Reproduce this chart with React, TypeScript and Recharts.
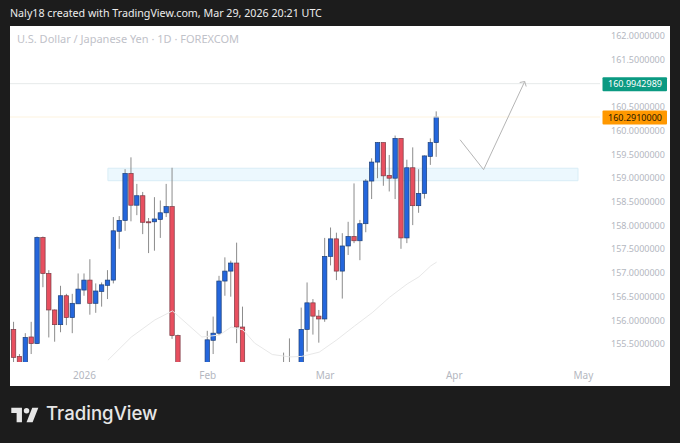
import React from "react";
import { ComposedChart, Bar, Line, XAxis, YAxis, ReferenceArea, ReferenceLine } from "recharts";

// Candle index starts at -1 (partly hidden candle at the left edge). null = candle not visible in the picture.
const firstIdx = -1;
const opens = [155.59,155.81,155.24,155.0,155.65,155.51,157.75,156.99,156.22,155.91,156.52,156.06,156.35,156.64,156.85,156.36,156.61,156.74,156.85,157.88,158.11,159.10,158.43,158.63,158.08,158.08,158.13,158.27,158.40,155.68,null,null,null,null,155.0,155.58,155.73,156.83,157.04,157.21,155.86,null,null,null,null,null,null,null,null,null,155.0,155.81,156.37,156.09,156.03,157.35,157.72,157.04,157.57,157.77,157.68,158.04,158.94,159.34,159.75,159.06,159.00,159.84,157.74,159.22,158.42,158.68,159.46,159.75];
const highs = [155.85,155.97,155.29,155.73,155.97,157.77,157.77,157.06,156.23,156.73,156.56,156.56,156.99,156.99,157.29,156.78,156.80,157.06,158.18,158.20,159.19,159.44,158.88,158.71,158.16,158.60,158.53,158.88,159.22,155.70,null,null,null,null,155.78,156.08,156.94,157.33,157.26,157.64,156.29,null,null,null,null,null,null,155.32,155.62,null,156.27,156.80,156.45,156.22,157.74,157.96,157.85,157.84,158.08,158.89,158.12,158.98,159.42,159.76,159.75,159.49,159.90,159.84,159.39,159.65,159.19,159.48,159.84,160.41];
const lows = [155.3,155.12,155.0,154.95,155.29,155.50,156.70,155.64,155.55,155.75,155.90,155.73,156.35,156.52,156.12,156.16,156.29,156.45,156.78,157.51,157.89,158.09,158.22,157.82,157.42,157.47,157.74,158.18,155.61,155.0,null,null,null,null,154.95,155.29,155.69,156.52,156.50,155.52,155.0,null,null,null,null,null,null,155.0,155.0,null,154.95,155.34,155.70,155.53,155.97,157.16,156.85,156.46,157.38,157.63,157.27,157.86,158.56,159.00,158.84,158.72,158.56,157.51,157.63,158.01,158.27,158.57,159.28,159.45];
const closes = [155.81,155.22,155.05,155.64,155.51,157.75,156.99,156.22,155.91,156.52,156.06,156.36,156.66,156.85,156.36,156.62,156.75,156.85,157.89,158.11,159.10,158.43,158.63,158.07,158.06,158.14,158.27,158.40,155.68,155.02,null,null,null,null,155.59,155.73,156.83,157.04,157.21,155.86,155.03,null,null,null,null,null,null,null,null,null,155.81,156.37,156.09,156.03,157.35,157.72,157.04,157.57,157.77,157.68,158.04,158.94,159.34,159.75,159.05,159.00,159.84,157.74,159.22,158.42,158.68,159.47,159.75,160.29];

const maIdx = [16,20,24,27,28,30,32,35,37,39,41,44,47,49,52,55,58,61,64,67,69,71,72];
const maVals = [155.16,155.65,156.01,156.20,156.09,155.87,155.65,155.69,155.86,155.80,155.52,155.28,155.23,155.24,155.33,155.59,155.88,156.16,156.49,156.77,156.92,157.15,157.23];

const pathIdx = [76,80,87];
const pathVals = [159.81,159.18,161.04];

const priceTicks = [155.5,156,156.5,157,157.5,158,158.5,159,159.5,160,160.5,161.5,162];
const timeTicks = [12,33,53,75,97];
const timeLabels = ["2026","Feb","Mar","Apr","May"];

const zoneTop = 159.21;
const zoneBottom = 158.947;
const zoneStart = 16;
const zoneEnd = 96.08;
const targetPrice = 160.9942989;
const lastPrice = 160.291;

const rows: any[] = [];
for (let idx = firstIdx; idx <= 99; idx++) {
  const k = idx - firstIdx;
  const row: any = { idx };
  if (k < opens.length && highs[k] != null) {
    row.open = opens[k];
    row.high = highs[k];
    row.low = lows[k];
    row.close = closes[k];
    row.range = [lows[k], highs[k]];
  }
  const m = maIdx.indexOf(idx);
  if (m >= 0) row.ma = maVals[m];
  const p = pathIdx.indexOf(idx);
  if (p >= 0) row.path = pathVals[p];
  rows.push(row);
}

const FONT = "'Noto Sans', sans-serif";
const AXIS = "#b4b7bf";

const Candle = (props: any) => {
  const { x, y, width, height, payload } = props;
  if (!payload || payload.high == null || !height) return null;
  const cx = x + width / 2;
  const perUnit = height / (payload.high - payload.low);
  const wick = <line x1={cx} x2={cx} y1={y} y2={y + height} stroke="#8c8c8c" strokeWidth={1} />;
  if (payload.open == null) return <g>{wick}</g>;
  const up = payload.close >= payload.open;
  const top = y + (payload.high - Math.max(payload.open, payload.close)) * perUnit;
  const h = Math.max(1, Math.abs(payload.open - payload.close) * perUnit);
  return (
    <g>
      {wick}
      <rect x={cx - 2.2} y={top} width={4.4} height={h} fill={up ? "#2466dc" : "#e84f5f"} stroke={up ? "#1c3f78" : "#7a3a44"} strokeWidth={0.7} />
    </g>
  );
};

const PriceTag = (fill: string, color: string, text: string) => (props: any) => {
  const y = props.viewBox.y + 0.5;
  return (
    <g>
      <rect x={602.5} y={y - 7} width={64.5} height={14} rx={1} fill={fill} />
      <text x={635} y={y + 3.3} textAnchor="middle" fontSize={9} fontFamily={FONT} fill={color}>{text}</text>
    </g>
  );
};

const ArrowDot = (props: any) => {
  const { cx, cy, index } = props;
  if (cx == null || rows[index]?.idx !== pathIdx[pathIdx.length - 1]) return <g key={index} />;
  return <path key={index} d={`M${cx - 5} ${cy + 1}L${cx} ${cy}L${cx + 1.5} ${cy + 5}`} fill="none" stroke="#b5b5b5" strokeWidth={1} />;
};

export default function App() {
  return (
    <div style={{ position: "absolute", left: 0, top: 0, width: 680, height: 443, background: "#1c1c1c", overflow: "hidden" }}>
      <div style={{ position: "absolute", left: 10, top: 26, width: 660, height: 360, background: "#fff" }} />
      <div style={{ position: "absolute", left: 10, top: 6, fontFamily: FONT, fontSize: 10.7, color: "#ececec", whiteSpace: "nowrap" }}>
        Naly18 created with TradingView.com, Mar 29, 2026 20:21 UTC
      </div>
      <div style={{ position: "absolute", left: 17, top: 31, fontFamily: FONT, fontSize: 11, color: "#bfc2c9", whiteSpace: "nowrap" }}>
        U.S. Dollar / Japanese Yen · 1D · FOREXCOM
      </div>
      <div style={{ position: "absolute", left: 0, top: 0 }}>
        <ComposedChart width={680} height={443} data={rows} margin={{ top: 26, right: 10, bottom: 57, left: 10 }}>
          <XAxis
            dataKey="idx"
            type="number"
            domain={[-0.681, 99.83]}
            allowDataOverflow
            ticks={timeTicks}
            tickFormatter={(v: number) => timeLabels[timeTicks.indexOf(v)]}
            axisLine={false}
            tickLine={false}
            height={24}
            tick={{ fontSize: 10, fontFamily: FONT, fill: AXIS }}
            tickMargin={4}
            interval={0}
          />
          <YAxis
            orientation="right"
            type="number"
            domain={[155.122, 162.211]}
            allowDataOverflow
            ticks={priceTicks}
            tickFormatter={(v: number) => v.toFixed(7)}
            axisLine={false}
            tickLine={false}
            width={70}
            tickSize={0}
            tickMargin={11}
            tick={{ fontSize: 9, fontFamily: FONT, fill: AXIS }}
            interval={0}
          />
          <ReferenceArea x1={zoneStart} x2={zoneEnd} y1={zoneBottom} y2={zoneTop} fill="#ecf8fe" fillOpacity={1} stroke="#d8edf6" strokeWidth={1} />
          <ReferenceLine y={targetPrice} stroke="#e6eaea" strokeWidth={1} label={PriceTag("#0b9a82", "#ffffff", targetPrice.toFixed(7))} />
          <ReferenceLine y={lastPrice} stroke="#fdf3df" strokeWidth={1} label={PriceTag("#ff9800", "#2a1a00", lastPrice.toFixed(7))} />
          <Line dataKey="ma" stroke="#e8e8e8" strokeWidth={1} dot={false} connectNulls isAnimationActive={false} />
          <Bar dataKey="range" barSize={5} shape={<Candle />} isAnimationActive={false} />
          <Line dataKey="path" stroke="#b5b5b5" strokeWidth={1} dot={<ArrowDot />} connectNulls isAnimationActive={false} />
        </ComposedChart>
      </div>
      <svg style={{ position: "absolute", left: 11, top: 407 }} width={28} height={16} viewBox="0 0 36 21">
        <path d="M14 20H7V8H0V1h14v19zM28 20h-8l7.5-19h8L28 20z" fill="#e6e6e6" />
        <circle cx="20" cy="5" r="3.6" fill="#e6e6e6" />
      </svg>
      <div style={{ position: "absolute", left: 46, top: 402, fontFamily: "Inter, sans-serif", fontWeight: 500, fontSize: 18.6, color: "#e6e6e6", whiteSpace: "nowrap" }}>
        TradingView
      </div>
    </div>
  );
}
